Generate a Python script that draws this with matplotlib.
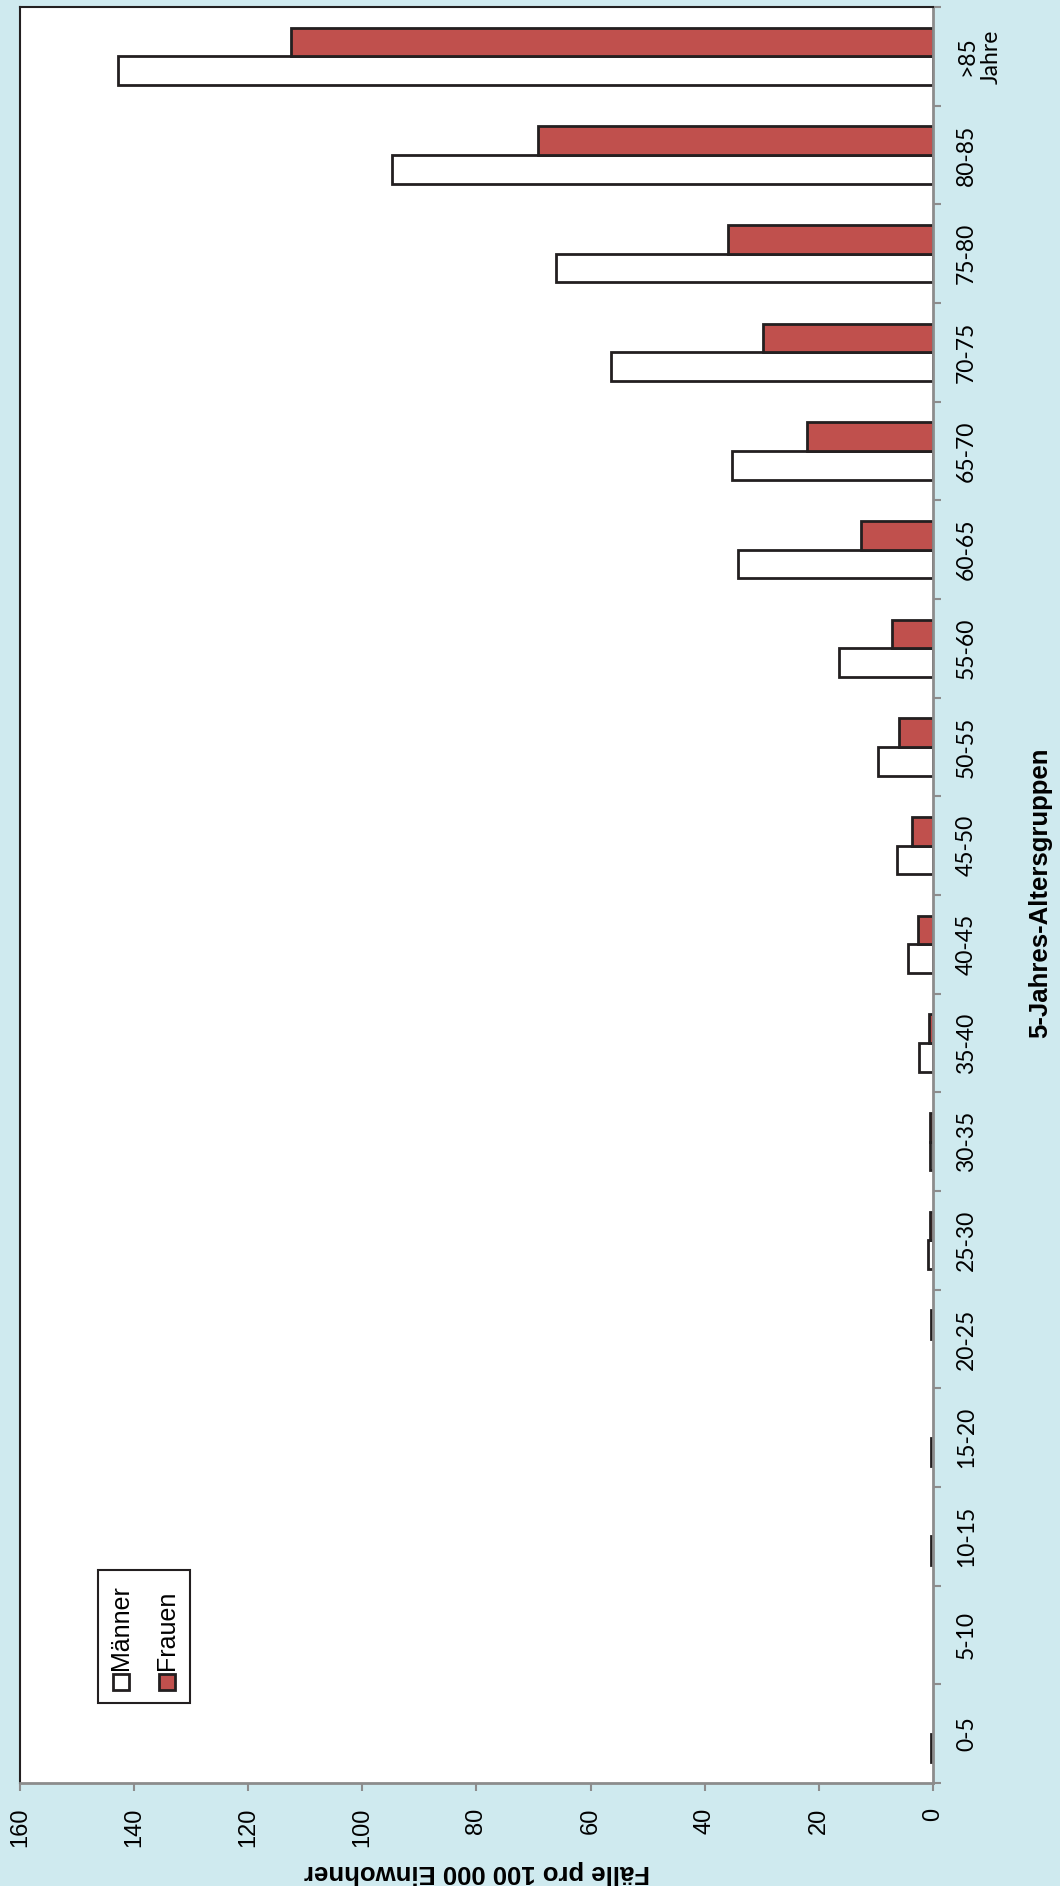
import numpy as np
import matplotlib
matplotlib.use("Agg")
import matplotlib.pyplot as plt
from matplotlib.patches import Rectangle
from matplotlib.ticker import FixedLocator, NullFormatter

# Fälle pro 100 000 Einwohner nach 5-Jahres-Altersgruppen
groups = ['0-5', '5-10', '10-15', '15-20', '20-25', '25-30', '30-35', '35-40', '40-45',
          '45-50', '50-55', '55-60', '60-65', '65-70', '70-75', '75-80', '80-85', '>85\nJahre']
maenner = [0.3, 0, 0.3, 0.3, 0, 0.9, 0.5, 2.4, 4.4, 6.3, 9.6, 16.4, 34.2, 35.3, 56.4, 66.1, 94.8, 142.9]
frauen = [0, 0, 0, 0, 0.4, 0.6, 0.5, 0.7, 2.7, 3.7, 6.0, 7.1, 12.7, 22.0, 29.8, 35.9, 69.2, 112.5]
xticks = [0, 20, 40, 60, 80, 100, 120, 140, 160]

bg = '#CFEAEF'
dark = '#231F20'
grey = '#8C8C8C'
red = '#C0504D'

W, H = 1060, 1886


def fx(x):
    return x / W


def fy(y):
    return 1 - y / H


fig = plt.figure(figsize=(10.6, 18.86), dpi=100)
fig.patch.set_facecolor(bg)
ax = fig.add_axes([fx(20), fy(1783), fx(933 - 20), (1783 - 7) / H])
ax.set_facecolor('white')

pos = np.arange(len(groups))
h = 0.29
ax.barh(pos - h / 2, maenner, height=h, color='white', edgecolor=dark,
        linewidth=[2 if v > 0 else 0 for v in maenner])
ax.barh(pos + h / 2, frauen, height=h, color=red, edgecolor=dark,
        linewidth=[2 if v > 0 else 0 for v in frauen])

ax.set_xlim(160, 0)
ax.set_ylim(-0.5, len(groups) - 0.5)

for s in ['top', 'left']:
    ax.spines[s].set_color(dark)
    ax.spines[s].set_linewidth(1.5)
for s in ['bottom', 'right']:
    ax.spines[s].set_color(grey)
    ax.spines[s].set_linewidth(2)

# value axis (bottom)
ax.set_xticks(xticks)
ax.set_xticklabels([str(v) for v in xticks], rotation=90, fontsize=17, family='Liberation Sans')
ax.tick_params(axis='x', direction='out', length=5.8, width=1.5, color=grey, pad=12)

# category axis (right), ticks between groups
ax.yaxis.set_major_locator(FixedLocator(np.arange(-0.5, len(groups), 1)))
ax.yaxis.set_major_formatter(NullFormatter())
ax.set_yticks(pos, minor=True)
ax.set_yticklabels(groups, minor=True, rotation=90, va='center', ha='left',
                   fontsize=16.5, family='Lato', multialignment='center')
for lab in ax.get_yticklabels(minor=True):
    lab.set_linespacing(1.5)
ax.tick_params(axis='y', which='major', left=False, right=True, direction='out',
               length=5.8, width=1.5, color=grey)
ax.tick_params(axis='y', which='minor', left=False, right=True, length=0,
               labelleft=False, labelright=True, pad=16.5)

# axis titles
fig.text(fx(477), fy(1872), 'Fälle pro 100 000 Einwohner', rotation=180, ha='center',
         va='center', fontsize=18.5, fontweight='bold', family='Liberation Sans')
fig.text(fx(1040), fy(893), '5-Jahres-Altersgruppen', rotation=90, ha='center',
         va='center', fontsize=18.5, fontweight='bold', family='Liberation Sans')

# legend, drawn rotated like the rest
fig.add_artist(Rectangle((fx(98), fy(1703)), fx(92), 133 / H, transform=fig.transFigure,
                         facecolor='white', edgecolor=dark, linewidth=1.5))
fig.add_artist(Rectangle((fx(113), fy(1690)), fx(16), 16 / H, transform=fig.transFigure,
                         facecolor='white', edgecolor=dark, linewidth=2))
fig.add_artist(Rectangle((fx(159), fy(1690)), fx(16), 16 / H, transform=fig.transFigure,
                         facecolor=red, edgecolor=dark, linewidth=2))
fig.text(fx(121.5), fy(1670), 'Männer', rotation=90, ha='center', va='bottom',
         fontsize=18, family='Liberation Sans')
fig.text(fx(167.5), fy(1670), 'Frauen', rotation=90, ha='center', va='bottom',
         fontsize=18, family='Liberation Sans')

fig.savefig('out.png', dpi=100, facecolor=bg)
